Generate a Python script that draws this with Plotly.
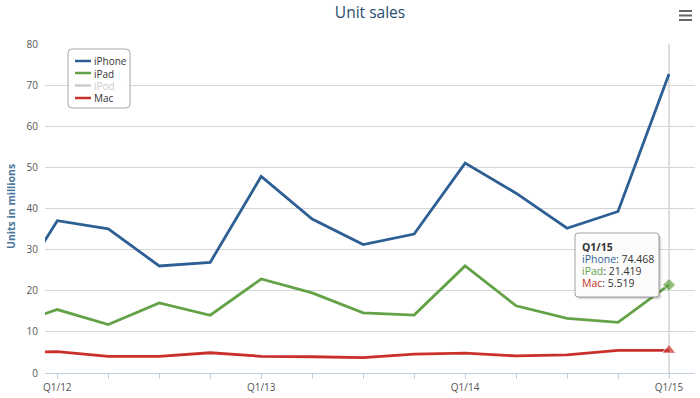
import plotly.graph_objects as go

# ---------------- data ----------------
quarters = ["Q4/11", "Q1/12", "Q2/12", "Q3/12", "Q4/12", "Q1/13", "Q2/13", "Q3/13",
            "Q4/13", "Q1/14", "Q2/14", "Q3/14", "Q4/14", "Q1/15"]
x_index = [-1, 0, 1, 2, 3, 4, 5, 6, 7, 8, 9, 10, 11, 12]
iphone = [17.07, 37.04, 35.06, 26.03, 26.91, 47.79, 37.43, 31.24, 33.80, 51.03, 43.72, 35.20, 39.27, 72.7]
ipad = [11.12, 15.43, 11.80, 17.04, 14.04, 22.86, 19.48, 14.62, 14.08, 26.04, 16.35, 13.28, 12.32, 21.419]
ipod = [6.62, 15.40, 7.67, 6.75, 5.34, 12.68, 5.63, 4.57, 3.50, 6.05, 2.76, 2.93, 2.64, None]
mac = [4.89, 5.20, 4.02, 4.02, 4.92, 4.06, 3.95, 3.75, 4.57, 4.84, 4.14, 4.41, 5.52, 5.519]
tick_vals = [0, 1, 2, 3, 4, 5, 6, 7, 8, 9, 10, 11, 12]
tick_text = ["Q1/12", "", "", "", "Q1/13", "", "", "", "Q1/14", "", "", "", "Q1/15"]
y_ticks = [0, 10, 20, 30, 40, 50, 60, 70, 80]
tooltip_title = "Q1/15"
tooltip_names = ["iPhone", "iPad", "Mac"]
tooltip_values = ["74.468", "21.419", "5.519"]
legend_names = ["iPhone", "iPad", "iPod", "Mac"]

# ---------------- style ----------------
C_IPHONE = "#2d5f94"
C_IPAD = "#63a247"
C_IPOD = "#cccccc"
C_MAC = "#c9302c"
FONT = "Open Sans"

W, H = 700, 398
ML, MR, MT, MB = 45, 5, 44, 25
PW, PH = W - ML - MR, H - MT - MB


def px(x):
    return (x - ML) / PW


def py(y):
    return (H - MB - y) / PH


def last_only(vals, size):
    return [0] * (len(vals) - 1) + [size]


fig = go.Figure()

fig.add_trace(go.Scatter(x=x_index, y=ipod, name="iPod", mode="lines",
                         line=dict(color=C_IPOD, width=2.8), visible=False, showlegend=False))
fig.add_trace(go.Scatter(x=x_index, y=mac, name="Mac", mode="lines+markers",
                         line=dict(color=C_MAC, width=2.8),
                         marker=dict(symbol="triangle-up", size=last_only(mac, 12), color=C_MAC),
                         showlegend=False))
fig.add_trace(go.Scatter(x=x_index, y=ipad, name="iPad", mode="lines+markers",
                         line=dict(color=C_IPAD, width=2.8),
                         marker=dict(symbol="diamond", size=last_only(ipad, 10), color=C_IPAD),
                         showlegend=False))
fig.add_trace(go.Scatter(x=x_index, y=iphone, name="iPhone", mode="lines",
                         line=dict(color=C_IPHONE, width=2.8), showlegend=False))

shapes = []
# crosshair at the hovered point
shapes.append(dict(type="line", xref="x", yref="paper", x0=tick_vals[-1], x1=tick_vals[-1],
                   y0=0, y1=1, line=dict(color="#d2d2d2", width=1.5), layer="below"))


def rounded(x0, y0, x1, y1, r):
    # pixel coords -> paper path
    pts = [
        f"M{px(x0 + r)},{py(y0)}",
        f"L{px(x1 - r)},{py(y0)}",
        f"Q{px(x1)},{py(y0)} {px(x1)},{py(y0 + r)}",
        f"L{px(x1)},{py(y1 - r)}",
        f"Q{px(x1)},{py(y1)} {px(x1 - r)},{py(y1)}",
        f"L{px(x0 + r)},{py(y1)}",
        f"Q{px(x0)},{py(y1)} {px(x0)},{py(y1 - r)}",
        f"L{px(x0)},{py(y0 + r)}",
        f"Q{px(x0)},{py(y0)} {px(x0 + r)},{py(y0)}",
        "Z",
    ]
    return " ".join(pts)


# legend box
shapes.append(dict(type="path", xref="paper", yref="paper", path=rounded(68, 49, 130, 108, 4),
                   line=dict(color="#a8a8a8", width=1), fillcolor="rgba(255,255,255,0.9)"))
legend_colors = [C_IPHONE, C_IPAD, C_IPOD, C_MAC]
legend_rows = [61, 73, 85.5, 98]
annotations = []
for name, col, ry in zip(legend_names, legend_colors, legend_rows):
    shapes.append(dict(type="line", xref="paper", yref="paper", x0=px(75), x1=px(91),
                       y0=py(ry), y1=py(ry), line=dict(color=col, width=2.5)))
    annotations.append(dict(xref="paper", yref="paper", x=px(92.5), y=py(ry), xanchor="left",
                            yanchor="middle", showarrow=False, text=name, height=11, borderpad=0,
                            font=dict(family=FONT, size=10, color=("#cccccc" if name == "iPod" else "#333333"))))

# tooltip box with shadow
for off, a in [(3, 0.05), (2, 0.08), (1, 0.12)]:
    shapes.append(dict(type="path", xref="paper", yref="paper",
                       path=rounded(575 + off, 233 + off, 659 + off, 297 + off, 3),
                       line=dict(width=0), fillcolor=f"rgba(0,0,0,{a})"))
shapes.append(dict(type="path", xref="paper", yref="paper", path=rounded(575, 233, 659, 297, 3),
                   line=dict(color="#a0a0a0", width=1), fillcolor="rgba(255,255,255,0.95)"))
annotations.append(dict(xref="paper", yref="paper", x=px(580.5), y=py(246), xanchor="left",
                        yanchor="middle", showarrow=False, text=f"<b>{tooltip_title}</b>",
                        height=11, borderpad=0,
                        font=dict(family=FONT, size=10.5, color="#333333")))
for name, val, col, ry in zip(tooltip_names, tooltip_values, [C_IPHONE, C_IPAD, C_MAC], [258, 270.5, 282.5]):
    annotations.append(dict(xref="paper", yref="paper", x=px(580.5), y=py(ry), xanchor="left",
                            yanchor="middle", showarrow=False, height=11, borderpad=0,
                            text=f"<span style='color:{col}'>{name}</span>: {val}",
                            font=dict(family=FONT, size=10.5, color="#333333")))

# y axis title
annotations.append(dict(xref="paper", yref="paper", x=px(11), y=py(207), xanchor="center",
                        yanchor="middle", showarrow=False, textangle=-90,
                        text="<b>Units in millions</b>",
                        font=dict(family=FONT, size=10.5, color="#4d759e")))

# export (hamburger) icon
for yy in [11, 15.5, 20]:
    shapes.append(dict(type="line", xref="paper", yref="paper", x0=px(679), x1=px(692),
                       y0=py(yy), y1=py(yy), line=dict(color="#666666", width=2)))

fig.update_layout(
    width=W, height=H,
    margin=dict(l=ML, r=MR, t=MT, b=MB),
    paper_bgcolor="white", plot_bgcolor="white",
    title=dict(text="Unit sales", x=0.5, xref="paper", y=1 - 13 / H, yanchor="middle",
               font=dict(family=FONT, size=15.5, color="#274b6d")),
    showlegend=False,
    xaxis=dict(range=[-0.241, 12.51], tickvals=tick_vals, ticktext=tick_text,
               showgrid=False, zeroline=False, showline=True, linecolor="#c0d0e0", linewidth=1,
               ticks="outside", ticklen=5, tickcolor="#c0d0e0",
               tickfont=dict(family=FONT, size=10, color="#555555")),
    yaxis=dict(range=[0, 80], tickvals=y_ticks, showgrid=True, gridcolor="#d6d6d6", gridwidth=1,
               zeroline=False, showline=False, ticks="outside", ticklen=4,
               tickcolor="rgba(0,0,0,0)",
               tickfont=dict(family=FONT, size=10, color="#555555")),
    shapes=shapes,
    annotations=annotations,
)

fig.write_html("out.html", config={"displayModeBar": False},
               post_script="document.body.style.margin='0';document.body.style.padding='0';")
